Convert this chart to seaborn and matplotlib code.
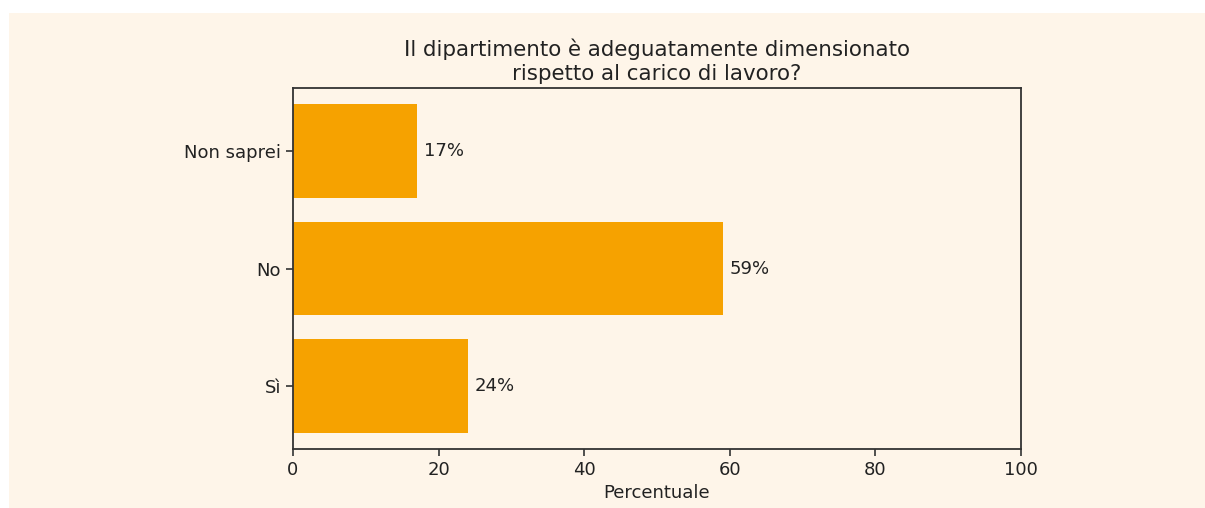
import matplotlib
matplotlib.use("Agg")
import matplotlib.pyplot as plt
from matplotlib.patches import Rectangle
import seaborn as sns
import pandas as pd

# Survey answers and their shares (percent)
categories = ["Non saprei", "No", "Sì"]
percentages = [17, 59, 24]

title = "Il dipartimento è adeguatamente dimensionato\nrispetto al carico di lavoro?"
xlabel = "Percentuale"

bg = "#fef5e9"
bar_color = "#f6a200"
ink = "#222222"

plt.rcParams["font.family"] = ["DejaVu Sans"]
plt.rcParams["text.color"] = ink
plt.rcParams["xtick.color"] = "#333333"
plt.rcParams["ytick.color"] = "#333333"
plt.rcParams["xtick.labelcolor"] = ink
plt.rcParams["ytick.labelcolor"] = ink
plt.rcParams["axes.labelcolor"] = ink

df = pd.DataFrame({"Risposta": categories, "Percentuale": percentages})

fig = plt.figure(figsize=(12.05, 5.08), dpi=100)
fig.patch.set_facecolor("white")
# cream panel behind the chart
fig.patches.append(Rectangle((9 / 1205, 0), 1 - 9 / 1205, (508 - 13) / 508,
                             transform=fig.transFigure, facecolor=bg,
                             edgecolor="none", zorder=-10))

ax = fig.add_axes([293 / 1205, 1 - 449 / 508, (1021 - 293) / 1205, (449 - 88) / 508])
ax.set_facecolor(bg)

sns.barplot(data=df, x="Percentuale", y="Risposta", order=categories,
            color=bar_color, saturation=1, width=0.8, linewidth=0, ax=ax)

for i, v in enumerate(percentages):
    ax.text(v + 1, i, f"{v}%", va="center", ha="left", fontsize=13)

ax.set_xlim(0, 100)
ax.set_ylim(2.54, -0.54)
ax.set_ylabel("")
ax.set_xlabel(xlabel, fontsize=13)
ax.set_title(title, fontsize=15.4, color=ink)
ax.tick_params(labelsize=13, width=1.2, length=5)
for s in ax.spines.values():
    s.set_visible(True)
    s.set_color("#333333")
    s.set_linewidth(1.3)

fig.savefig("out.png", dpi=100, facecolor=fig.get_facecolor())
